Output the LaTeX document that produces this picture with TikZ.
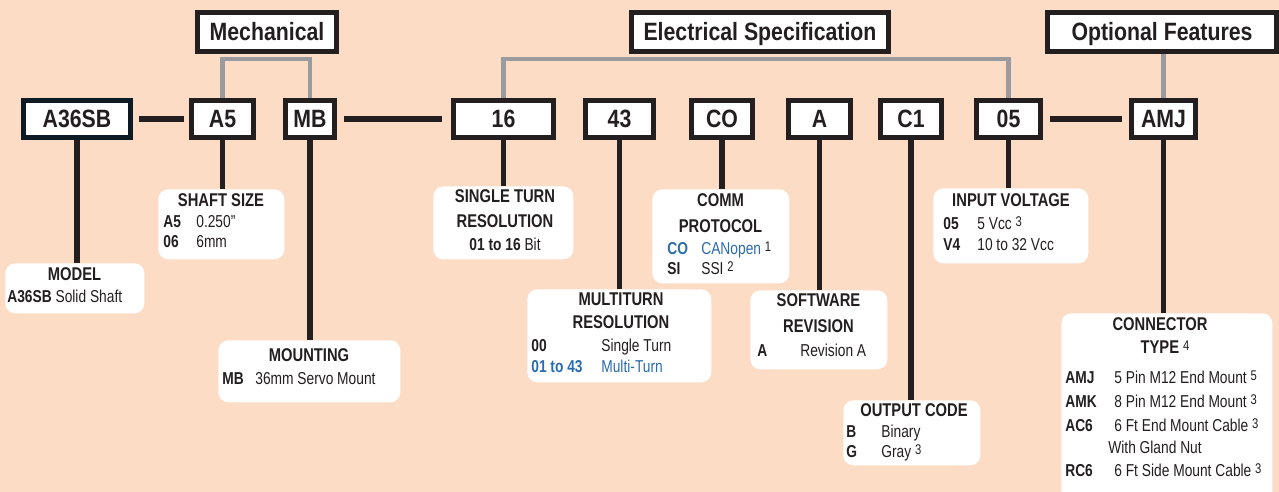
\documentclass[tikz,border=0pt]{standalone}
\usepackage{fontspec}
\setmainfont[FakeStretch=0.8]{Liberation Sans}
\newfontfamily\headfont[FakeStretch=0.85]{Liberation Sans}
\usetikzlibrary{positioning}

\definecolor{peach}{HTML}{FCDCC5}
\definecolor{ink}{HTML}{231F20}
\definecolor{a36edge}{HTML}{0E1A24}
\definecolor{linkgray}{HTML}{9A9B9E}
\definecolor{specblue}{HTML}{2B6CB0}

\newlength{\pxu}
\setlength{\pxu}{0.02cm}
\newcommand{\codecol}[2]{\makebox[#1\pxu][l]{\textbf{#2}}}
\newcommand{\fnote}[1]{\textcolor{ink}{\raisebox{1.9pt}{\mdseries\fontsize{8}{8}\selectfont #1}}}

\tikzset{
  codebox/.style={draw=ink, line width=5\pxu, fill=white, minimum height=37\pxu, inner sep=0pt,
    text height=10.2pt, text depth=0pt, text=ink, font=\headfont\bfseries\fontsize{14.25}{16}\selectfont},
  headbox/.style={codebox, minimum height=39\pxu},
  infobox/.style={fill=white, rounded corners=10\pxu, inner sep=0pt, anchor=north west},
  link/.style={draw=ink, line width=5.5\pxu},
  grouplink/.style={draw=linkgray, line width=4.5\pxu},
  title/.style={anchor=base, inner sep=0pt, text=ink, font=\bfseries\fontsize{10.5}{13}\selectfont},
  row/.style={anchor=base west, inner sep=0pt, text=ink, font=\fontsize{9.8}{12}\selectfont},
}

\begin{document}
\begin{tikzpicture}[x=0.02cm, y=-0.02cm]
\fill[peach] (0,0) rectangle (1279,492);
\useasboundingbox (0,0) rectangle (1279,492);

% group headers
\node[headbox, minimum width=139\pxu] (mech) at (267,32) {Mechanical};
\node[headbox, minimum width=257\pxu] (elec) at (760,32) {Electrical Specification};
\node[headbox, minimum width=229\pxu] (opt) at (1162,32) {Optional Features};

% part number boxes
\node[codebox, draw=a36edge, minimum width=107\pxu] (a36sb) at (77,119) {A36SB};
\node[codebox, minimum width=62\pxu] (a5) at (222.5,119) {A5};
\node[codebox, minimum width=49\pxu] (mb) at (310,119) {MB};
\node[codebox, minimum width=100\pxu] (b16) at (503.5,119) {16};
\node[codebox, minimum width=68\pxu] (b43) at (619.5,119) {43};
\node[codebox, minimum width=61\pxu] (co) at (722,119) {CO};
\node[codebox, minimum width=62\pxu] (ba) at (819.5,119) {A};
\node[codebox, minimum width=61\pxu] (c1) at (911,119) {C1};
\node[codebox, minimum width=64\pxu] (v05) at (1008.5,119) {05};
\node[codebox, minimum width=64\pxu] (amj) at (1163.5,119) {AMJ};

% grouping lines
\coordinate (bus) at (0,59);
\draw[grouplink] (a5.north) -- (a5.north |- bus) -| (mb.north);
\draw[grouplink] (b16.north) -- (b16.north |- bus) -| (v05.north);
\draw[grouplink] (opt.south -| amj.north) -- (amj.north);

% info boxes
\node[infobox, minimum width=139\pxu, minimum height=50\pxu] (modelinfo) at (5,263) {};
\node[infobox, minimum width=126\pxu, minimum height=70\pxu] (shaftinfo) at (158,189) {};
\node[infobox, minimum width=182\pxu, minimum height=62\pxu] (mountinfo) at (218,340) {};
\node[infobox, minimum width=140\pxu, minimum height=73\pxu] (stinfo) at (433,186) {};
\node[infobox, minimum width=184\pxu, minimum height=93\pxu] (mtinfo) at (527,289) {};
\node[infobox, minimum width=137\pxu, minimum height=94\pxu] (protoinfo) at (652,189) {};
\node[infobox, minimum width=137\pxu, minimum height=79\pxu] (softinfo) at (750,290) {};
\node[infobox, minimum width=137\pxu, minimum height=65\pxu] (outinfo) at (843,400) {};
\node[infobox, minimum width=155\pxu, minimum height=75\pxu] (voltinfo) at (933,188) {};
\node[infobox, minimum width=211\pxu, minimum height=190\pxu] (conninfo) at (1061,313) {};

% part number links
\draw[link, shorten <=6\pxu, shorten >=5\pxu] (a36sb.east) -- (a5.west);
\draw[link, shorten <=7\pxu, shorten >=9\pxu] (mb.east) -- (b16.west);
\draw[link, shorten <=7\pxu, shorten >=7\pxu] (v05.east) -- (amj.west);

\draw[link] (a36sb.south) -- (a36sb.south |- modelinfo.north);
\draw[link] (a5.south) -- (a5.south |- shaftinfo.north);
\draw[link] (mb.south) -- (mb.south |- mountinfo.north);
\draw[link] (b16.south) -- (b16.south |- stinfo.north);
\draw[link] (b43.south) -- (b43.south |- mtinfo.north);
\draw[link] (co.south) -- (co.south |- protoinfo.north);
\draw[link] (ba.south) -- (ba.south |- softinfo.north);
\draw[link] (c1.south) -- (c1.south |- outinfo.north);
\draw[link] (v05.south) -- (v05.south |- voltinfo.north);
\draw[link] (amj.south) -- (amj.south |- conninfo.north);

% model
\node[title] (modelT) at (74.5,281) {MODEL};
\node[row] (modelR) at (7,303) {\textbf{A36SB} Solid Shaft};

% shaft size
\node[title] (shaftT) at (221,207) {SHAFT SIZE};
\node[row] (shaftR1) at (163,228) {\codecol{33}{A5}0.250''};
\node[row] (shaftR2) at (163,248) {\codecol{33}{06}6mm};

% mounting
\node[title] (mountT) at (309,362) {MOUNTING};
\node[row] (mountR) at (222,385) {\codecol{33}{MB}36mm Servo Mount};

% single turn resolution
\node[title] (stT1) at (505,203) {SINGLE TURN};
\node[title] (stT2) at (505,228) {RESOLUTION};
\node[row, anchor=base] (stR) at (505,251) {\textbf{01 to 16} Bit};

% multiturn resolution
\node[title] (mtT1) at (621,306) {MULTITURN};
\node[title] (mtT2) at (621,329) {RESOLUTION};
\node[row] (mtR1) at (531,352) {\codecol{70}{00}Single Turn};
\node[row, text=specblue] (mtR2) at (531,373) {\codecol{70}{01 to 43}Multi-Turn};

% comm protocol
\node[title] (protoT1) at (720.5,207) {COMM};
\node[title] (protoT2) at (720.5,233) {PROTOCOL};
\node[row, text=specblue] (protoR1) at (667,255) {\codecol{34}{CO}CANopen \fnote{1}};
\node[row] (protoR2) at (667,275) {\codecol{34}{SI}SSI \fnote{2}};

% software revision
\node[title] (softT1) at (818.5,307) {SOFTWARE};
\node[title] (softT2) at (818.5,333) {REVISION};
\node[row] (softR) at (757,357) {\codecol{43}{A}Revision A};

% output code
\node[title] (outT) at (914,417) {OUTPUT CODE};
\node[row] (outR1) at (846,438) {\codecol{35}{B}Binary};
\node[row] (outR2) at (846,458) {\codecol{35}{G}Gray \fnote{3}};

% input voltage
\node[title] (voltT) at (1011,207) {INPUT VOLTAGE};
\node[row] (voltR1) at (943,230) {\codecol{34}{05}5 Vcc \fnote{3}};
\node[row] (voltR2) at (943,251) {\codecol{34}{V4}10 to 32 Vcc};

% connector type
\node[title] (connT1) at (1160,331) {CONNECTOR};
\node[title] (connT2) at (1165,354) {TYPE \fnote{4}};
\node[row] (connR1) at (1065,384) {\codecol{49}{AMJ}5 Pin M12 End Mount \fnote{5}};
\node[row] (connR2) at (1065,408) {\codecol{49}{AMK}8 Pin M12 End Mount \fnote{3}};
\node[row] (connR3) at (1065,432) {\codecol{49}{AC6}6 Ft End Mount Cable \fnote{3}};
\node[row] (connR4) at (1108,454) {With Gland Nut};
\node[row] (connR5) at (1065,477) {\codecol{49}{RC6}6 Ft Side Mount Cable \fnote{3}};
\end{tikzpicture}
\end{document}
